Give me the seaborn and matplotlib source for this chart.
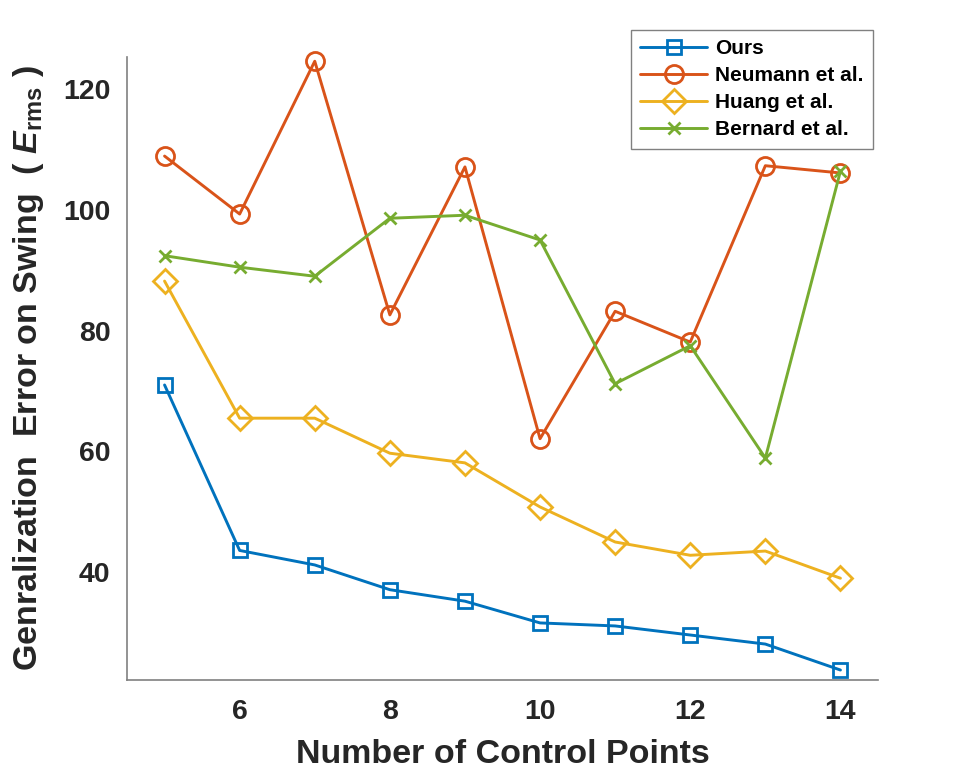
import matplotlib
matplotlib.use('Agg')
import matplotlib.pyplot as plt
import seaborn as sns
import pandas as pd

# 数据：控制点数量与各方法的泛化误差
control_points = [5, 6, 7, 8, 9, 10, 11, 12, 13, 14]
ours = [71.0, 43.6, 41.2, 37.1, 35.2, 31.6, 31.1, 29.6, 28.1, 23.8]
neumann = [108.9, 99.3, 124.6, 82.6, 107.1, 62.1, 83.2, 78.1, 107.3, 106.1]
huang = [88.2, 65.5, 65.5, 59.7, 58.1, 50.8, 45.0, 42.8, 43.5, 39.0]
bernard = [92.4, 90.5, 89.0, 98.6, 99.1, 95.0, 71.2, 77.5, 58.9, 106.4]

series_names = ['Ours', 'Neumann et al.', 'Huang et al.', 'Bernard et al.']
series_values = [ours, neumann, huang, bernard]
colors = ['#0072BD', '#D95319', '#EDB120', '#77AC30']
markers = ['s', 'o', 'D', 'x']
msizes = [10, 13, 12, 9]

sns.set_style('white')
plt.rcParams['font.family'] = ['Liberation Sans', 'DejaVu Sans']
plt.rcParams['font.weight'] = 'bold'
plt.rcParams['mathtext.fontset'] = 'custom'
plt.rcParams['mathtext.rm'] = 'Liberation Sans:bold'
plt.rcParams['mathtext.it'] = 'Liberation Sans:italic:bold'

fig = plt.figure(figsize=(9.69, 7.75), dpi=100)
ax = fig.add_axes([127 / 969, 95 / 775, 751 / 969, 623 / 775])

for name, vals, c, m, ms in zip(series_names, series_values, colors, markers, msizes):
    df = pd.DataFrame({'x': control_points, 'y': vals})
    sns.lineplot(data=df, x='x', y='y', ax=ax, color=c, linewidth=2.1,
                 marker=m, markersize=ms, markerfacecolor='none',
                 markeredgecolor=c, markeredgewidth=2.0, label=name,
                 clip_on=False)

ax.set_xlim(4.5, 14.5)
ax.set_ylim(22.15, 125.3)
ax.set_xticks([6, 8, 10, 12, 14])
ax.set_yticks([40, 60, 80, 100, 120])

ax.spines['top'].set_visible(False)
ax.spines['right'].set_visible(False)
for s in ['left', 'bottom']:
    ax.spines[s].set_color('#808080')
    ax.spines[s].set_linewidth(1.2)

ax.tick_params(axis='both', direction='in', length=6, width=1, color='#262626',
               labelsize=20.5, labelcolor='#262626')
ax.tick_params(axis='x', pad=14)
ax.tick_params(axis='y', pad=12)
for lab in ax.get_xticklabels() + ax.get_yticklabels():
    lab.set_fontweight('bold')

ax.set_xlabel('Number of Control Points', fontsize=24.5, fontweight='bold',
              color='#262626', labelpad=10)
ax.set_ylabel(r'Genralization  Error on Swing  ( $\mathit{E}_{\rm rms}$ )',
              fontsize=24.5, fontweight='bold', color='#262626', labelpad=12)

leg = ax.legend(loc='upper right', bbox_to_anchor=(873 / 969, 745 / 775),
                bbox_transform=fig.transFigure, fontsize=15, frameon=True,
                fancybox=False, edgecolor='#808080', framealpha=1,
                handlelength=3.2, handletextpad=0.4, labelspacing=0.38,
                borderpad=0.45, borderaxespad=0)
leg.get_frame().set_linewidth(1.0)
for t in leg.get_texts():
    t.set_fontweight('bold')
    t.set_color('black')

fig.savefig('out.png', dpi=100)
